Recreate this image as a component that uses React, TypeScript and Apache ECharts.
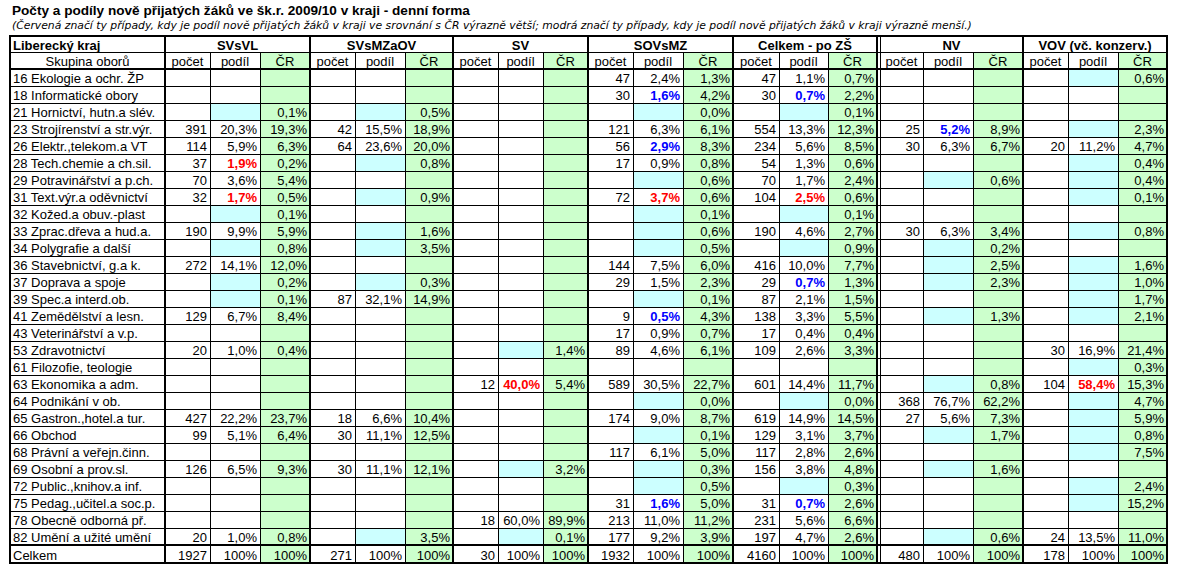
import React, { useEffect, useRef } from "react";
import * as echarts from "echarts";

const W = 1177;
const H = 566;

const titleText = "Počty a podíly nově přijatých žáků ve šk.r. 2009/10 v kraji - denní forma";
const subtitleText =
  "(Červená značí ty případy, kdy je podíl nově přijatých žáků v kraji ve srovnání s ČR výrazně větší; modrá značí ty případy, kdy je podíl nově přijatých žáků v kraji výrazně menší.)";
const regionName = "Liberecký kraj";
const firstColHeader = "Skupina oborů";
const totalLabel = "Celkem";
const groupNames = ["SVsVL", "SVsMZaOV", "SV", "SOVsMZ", "Celkem - po ZŠ", "NV", "VOV (vč. konzerv.)"];
const subHeaders = ["počet", "podíl", "ČR"];

const oborLabels = [
  "16 Ekologie a ochr. ŽP",
  "18 Informatické obory",
  "21 Hornictví, hutn.a slév.",
  "23 Strojírenství a str.výr.",
  "26 Elektr.,telekom.a VT",
  "28 Tech.chemie a ch.sil.",
  "29 Potravinářství a p.ch.",
  "31 Text.výr.a oděvnictví",
  "32 Kožed.a obuv.-plast",
  "33 Zprac.dřeva a hud.a.",
  "34 Polygrafie a další",
  "36 Stavebnictví, g.a k.",
  "37 Doprava a spoje",
  "39 Spec.a interd.ob.",
  "41 Zemědělství a lesn.",
  "43 Veterinářství a v.p.",
  "53 Zdravotnictví",
  "61 Filozofie, teologie",
  "63 Ekonomika a adm.",
  "64 Podnikání v ob.",
  "65 Gastron.,hotel.a tur.",
  "66 Obchod",
  "68 Právní a veřejn.činn.",
  "69 Osobní a prov.sl.",
  "72 Public.,knihov.a inf.",
  "75 Pedag.,učitel.a soc.p.",
  "78 Obecně odborná př.",
  "82 Umění a užité umění",
];

// each row: [počet, podíl %, ČR %, highlight ("r" = výrazně větší, "b" = výrazně menší)]
const n = null;
const svsvl = [
  [n, n, n], [n, n, n], [n, n, 0.1], [391, 20.3, 19.3], [114, 5.9, 6.3], [37, 1.9, 0.2, "r"],
  [70, 3.6, 5.4], [32, 1.7, 0.5, "r"], [n, n, 0.1], [190, 9.9, 5.9], [n, n, 0.8], [272, 14.1, 12.0],
  [n, n, 0.2], [n, n, 0.1], [129, 6.7, 8.4], [n, n, n], [20, 1.0, 0.4], [n, n, n],
  [n, n, n], [n, n, n], [427, 22.2, 23.7], [99, 5.1, 6.4], [n, n, n], [126, 6.5, 9.3],
  [n, n, n], [n, n, n], [n, n, n], [20, 1.0, 0.8],
];
const svsmzaov = [
  [n, n, n], [n, n, n], [n, n, 0.5], [42, 15.5, 18.9], [64, 23.6, 20.0], [n, n, 0.8],
  [n, n, n], [n, n, 0.9], [n, n, n], [n, n, 1.6], [n, n, 3.5], [n, n, n],
  [n, n, 0.3], [87, 32.1, 14.9], [n, n, n], [n, n, n], [n, n, n], [n, n, n],
  [n, n, n], [n, n, n], [18, 6.6, 10.4], [30, 11.1, 12.5], [n, n, n], [30, 11.1, 12.1],
  [n, n, n], [n, n, n], [n, n, n], [n, n, 3.5],
];
const sv = [
  [n, n, n], [n, n, n], [n, n, n], [n, n, n], [n, n, n], [n, n, n],
  [n, n, n], [n, n, n], [n, n, n], [n, n, n], [n, n, n], [n, n, n],
  [n, n, n], [n, n, n], [n, n, n], [n, n, n], [n, n, 1.4], [n, n, n],
  [12, 40.0, 5.4, "r"], [n, n, n], [n, n, n], [n, n, n], [n, n, n], [n, n, 3.2],
  [n, n, n], [n, n, n], [18, 60.0, 89.9], [n, n, 0.1],
];
const sovsmz = [
  [47, 2.4, 1.3], [30, 1.6, 4.2, "b"], [n, n, 0.0], [121, 6.3, 6.1], [56, 2.9, 8.3, "b"], [17, 0.9, 0.8],
  [n, n, 0.6], [72, 3.7, 0.6, "r"], [n, n, 0.1], [n, n, 0.6], [n, n, 0.5], [144, 7.5, 6.0],
  [29, 1.5, 2.3], [n, n, 0.1], [9, 0.5, 4.3, "b"], [17, 0.9, 0.7], [89, 4.6, 6.1], [n, n, n],
  [589, 30.5, 22.7], [n, n, 0.0], [174, 9.0, 8.7], [n, n, 0.1], [117, 6.1, 5.0], [n, n, 0.3],
  [n, n, 0.5], [31, 1.6, 5.0, "b"], [213, 11.0, 11.2], [177, 9.2, 3.9],
];
const celkemPoZS = [
  [47, 1.1, 0.7], [30, 0.7, 2.2, "b"], [n, n, 0.1], [554, 13.3, 12.3], [234, 5.6, 8.5], [54, 1.3, 0.6],
  [70, 1.7, 2.4], [104, 2.5, 0.6, "r"], [n, n, 0.1], [190, 4.6, 2.7], [n, n, 0.9], [416, 10.0, 7.7],
  [29, 0.7, 1.3, "b"], [87, 2.1, 1.5], [138, 3.3, 5.5], [17, 0.4, 0.4], [109, 2.6, 3.3], [n, n, n],
  [601, 14.4, 11.7], [n, n, 0.0], [619, 14.9, 14.5], [129, 3.1, 3.7], [117, 2.8, 2.6], [156, 3.8, 4.8],
  [n, n, 0.3], [31, 0.7, 2.6, "b"], [231, 5.6, 6.6], [197, 4.7, 2.6],
];
const nv = [
  [n, n, n], [n, n, n], [n, n, n], [25, 5.2, 8.9, "b"], [30, 6.3, 6.7], [n, n, n],
  [n, n, 0.6], [n, n, n], [n, n, n], [30, 6.3, 3.4], [n, n, 0.2], [n, n, 2.5],
  [n, n, 2.3], [n, n, n], [n, n, 1.3], [n, n, n], [n, n, n], [n, n, n],
  [n, n, 0.8], [368, 76.7, 62.2], [27, 5.6, 7.3], [n, n, 1.7], [n, n, n], [n, n, 1.6],
  [n, n, n], [n, n, n], [n, n, n], [n, n, 0.6],
];
const vov = [
  [n, n, 0.6], [n, n, n], [n, n, n], [n, n, 2.3], [20, 11.2, 4.7], [n, n, 0.4],
  [n, n, 0.4], [n, n, 0.1], [n, n, n], [n, n, 0.8], [n, n, n], [n, n, 1.6],
  [n, n, 1.0], [n, n, 1.7], [n, n, 2.1], [n, n, n], [30, 16.9, 21.4], [n, n, 0.3],
  [104, 58.4, 15.3, "r"], [n, n, 4.7], [n, n, 5.9], [n, n, 0.8], [n, n, 7.5], [n, n, n],
  [n, n, 2.4], [n, n, 15.2], [n, n, n], [24, 13.5, 11.0],
];
const groupTotals = [1927, 271, 30, 1932, 4160, 480, 178];
const groupData: any[][] = [svsvl, svsmzaov, sv, sovsmz, celkemPoZS, nv, vov];

// ---------- layout (pixels) ----------
const FIRST_COL = [10, 165];
const GROUP_EDGES = [
  [165, 210, 260, 310],
  [310, 355, 405, 453],
  [453, 498, 543, 588],
  [588, 633, 683, 733],
  [733, 779, 828, 877],
  [880, 923, 973, 1023],
  [1023, 1068, 1118, 1167],
];
const TOP = 36;
const HEAD1_END = 52;
const HEAD2_END = 69;
const ROW_H = 17;
const TOTAL_END = 563;
const RIGHT = 1167;

const GREEN = "#ccffcc";
const CYAN = "#ccffff";
const FONT = "Liberation Sans, Arial, sans-serif";
const SUB_FONT = "DejaVu Sans, Verdana, sans-serif";

const fmtPct = (v: number) => v.toFixed(1).replace(".", ",") + "%";

type Cell = {
  x0: number; x1: number; y0: number; y1: number;
  text: string; bg: string; color: string; bold: boolean; align: string; size: number;
};

function buildCells(): Cell[] {
  const cells: Cell[] = [];
  const nRows = oborLabels.length;
  const totalTop = HEAD2_END + nRows * ROW_H;
  cells.push({ x0: FIRST_COL[0], x1: FIRST_COL[1], y0: TOP, y1: HEAD1_END, text: regionName, bg: "#fff", color: "#000", bold: true, align: "left", size: 13 });
  groupNames.forEach((g, gi) => {
    const e = GROUP_EDGES[gi];
    cells.push({ x0: e[0], x1: e[3], y0: TOP, y1: HEAD1_END, text: g, bg: "#fff", color: "#000", bold: true, align: "center", size: 13 });
  });
  cells.push({ x0: FIRST_COL[0], x1: FIRST_COL[1], y0: HEAD1_END, y1: HEAD2_END, text: firstColHeader, bg: "#fff", color: "#000", bold: false, align: "center", size: 13 });
  GROUP_EDGES.forEach((e) => {
    subHeaders.forEach((s, k) => {
      cells.push({ x0: e[k], x1: e[k + 1], y0: HEAD1_END, y1: HEAD2_END, text: s, bg: k === 2 ? GREEN : "#fff", color: "#000", bold: false, align: "center", size: 13 });
    });
  });
  oborLabels.forEach((lab, ri) => {
    const y0 = HEAD2_END + ri * ROW_H;
    const y1 = y0 + ROW_H;
    cells.push({ x0: FIRST_COL[0], x1: FIRST_COL[1], y0, y1, text: lab, bg: "#fff", color: "#000", bold: false, align: "left", size: 13 });
    groupData.forEach((gd, gi) => {
      const e = GROUP_EDGES[gi];
      const [cnt, share, cr, hl] = gd[ri];
      const shareBg = cnt == null && cr != null ? CYAN : "#fff";
      const shareColor = hl === "r" ? "#ff0000" : hl === "b" ? "#0000ff" : "#000";
      cells.push({ x0: e[0], x1: e[1], y0, y1, text: cnt == null ? "" : String(cnt), bg: "#fff", color: "#000", bold: false, align: "right", size: 13 });
      cells.push({ x0: e[1], x1: e[2], y0, y1, text: share == null ? "" : fmtPct(share), bg: shareBg, color: shareColor, bold: !!hl, align: "right", size: 13 });
      cells.push({ x0: e[2], x1: e[3], y0, y1, text: cr == null ? "" : fmtPct(cr), bg: GREEN, color: "#000", bold: false, align: "right", size: 13 });
    });
  });
  cells.push({ x0: FIRST_COL[0], x1: FIRST_COL[1], y0: totalTop, y1: TOTAL_END, text: totalLabel, bg: "#fff", color: "#000", bold: false, align: "left", size: 13 });
  GROUP_EDGES.forEach((e, gi) => {
    cells.push({ x0: e[0], x1: e[1], y0: totalTop, y1: TOTAL_END, text: String(groupTotals[gi]), bg: "#fff", color: "#000", bold: false, align: "right", size: 13 });
    cells.push({ x0: e[1], x1: e[2], y0: totalTop, y1: TOTAL_END, text: "100%", bg: "#fff", color: "#000", bold: false, align: "right", size: 13 });
    cells.push({ x0: e[2], x1: e[3], y0: totalTop, y1: TOTAL_END, text: "100%", bg: GREEN, color: "#000", bold: false, align: "right", size: 13 });
  });
  return cells;
}

type Seg = { x0: number; y0: number; x1: number; y1: number; w: number };

function buildLines(): Seg[] {
  const segs: Seg[] = [];
  const nRows = oborLabels.length;
  const totalTop = HEAD2_END + nRows * ROW_H;
  const L = FIRST_COL[0];
  segs.push({ x0: L - 1, y0: TOP, x1: RIGHT + 1, y1: TOP, w: 2 });
  segs.push({ x0: L, y0: HEAD1_END, x1: RIGHT, y1: HEAD1_END, w: 1 });
  segs.push({ x0: L, y0: HEAD2_END, x1: RIGHT, y1: HEAD2_END, w: 2 });
  for (let i = 1; i < nRows; i++) {
    const y = HEAD2_END + i * ROW_H;
    segs.push({ x0: L, y0: y, x1: RIGHT, y1: y, w: 1 });
  }
  segs.push({ x0: L, y0: totalTop, x1: RIGHT, y1: totalTop, w: 2 });
  segs.push({ x0: L - 1, y0: TOTAL_END, x1: RIGHT + 1, y1: TOTAL_END, w: 2 });
  const thick = [L, FIRST_COL[1], ...GROUP_EDGES.map((e) => e[3])];
  thick.forEach((x) => segs.push({ x0: x, y0: TOP, x1: x, y1: TOTAL_END, w: 2 }));
  segs.push({ x0: GROUP_EDGES[5][0], y0: TOP, x1: GROUP_EDGES[5][0], y1: TOTAL_END, w: 1 });
  GROUP_EDGES.forEach((e) => {
    [e[1], e[2]].forEach((x) => segs.push({ x0: x, y0: HEAD1_END, x1: x, y1: TOTAL_END, w: 1 }));
  });
  return segs;
}

export default function App() {
  const ref = useRef<HTMLDivElement>(null);
  useEffect(() => {
    if (!ref.current) return;
    document.body.style.margin = "0";
    const chart = echarts.init(ref.current, undefined, { renderer: "svg" });
    const cells = buildCells();
    const segs = buildLines();
    chart.setOption({
      animation: false,
      backgroundColor: "#ffffff",
      title: [
        {
          text: titleText,
          left: 12,
          top: 3,
          padding: 0,
          textStyle: { fontFamily: FONT, fontWeight: "bold", fontSize: 13.6, color: "#000" },
        },
        {
          text: subtitleText,
          left: 12,
          top: 20,
          padding: 0,
          textStyle: { fontFamily: SUB_FONT, fontStyle: "italic", fontWeight: "normal", fontSize: 10.8, color: "#000" },
        },
      ],
      grid: { left: 0, top: 0, width: W, height: H, containLabel: false },
      xAxis: { type: "value", min: 0, max: W, show: false },
      yAxis: { type: "value", min: 0, max: H, inverse: true, show: false },
      series: [
        {
          type: "custom",
          coordinateSystem: "cartesian2d",
          data: cells.map((c) => [c.x0, c.y0, c.x1, c.y1]),
          encode: { x: [0, 2], y: [1, 3] },
          clip: false,
          renderItem: (params: any, api: any) => {
            const c = cells[params.dataIndex];
            const p0 = api.coord([api.value(0), api.value(1)]);
            const p1 = api.coord([api.value(2), api.value(3)]);
            const pad = 3;
            const tx = c.align === "left" ? p0[0] + pad : c.align === "right" ? p1[0] - pad : (p0[0] + p1[0]) / 2;
            return {
              type: "group",
              children: [
                {
                  type: "rect",
                  shape: { x: p0[0], y: p0[1], width: p1[0] - p0[0], height: p1[1] - p0[1] },
                  style: { fill: c.bg },
                },
                {
                  type: "text",
                  style: {
                    text: c.text,
                    x: tx,
                    y: (p0[1] + p1[1]) / 2 + 1,
                    align: c.align,
                    verticalAlign: "middle",
                    fill: c.color,
                    fontFamily: FONT,
                    fontSize: c.size,
                    fontWeight: c.bold ? "bold" : "normal",
                  },
                },
              ],
            };
          },
        },
        {
          type: "custom",
          coordinateSystem: "cartesian2d",
          data: segs.map((s) => [s.x0, s.y0, s.x1, s.y1, s.w]),
          encode: { x: [0, 2], y: [1, 3] },
          clip: false,
          renderItem: (params: any, api: any) => {
            const w = api.value(4);
            const p0 = api.coord([api.value(0), api.value(1)]);
            const p1 = api.coord([api.value(2), api.value(3)]);
            const off = w % 2 === 1 ? 0.5 : 0;
            const horiz = p0[1] === p1[1];
            return {
              type: "line",
              shape: horiz
                ? { x1: p0[0], y1: p0[1] + off, x2: p1[0], y2: p1[1] + off }
                : { x1: p0[0] + off, y1: p0[1], x2: p1[0] + off, y2: p1[1] },
              style: { stroke: "#000", lineWidth: w },
            };
          },
        },
      ],
    });
    return () => chart.dispose();
  }, []);
  return <div ref={ref} style={{ position: "fixed", left: 0, top: 0, width: W, height: H }} />;
}
